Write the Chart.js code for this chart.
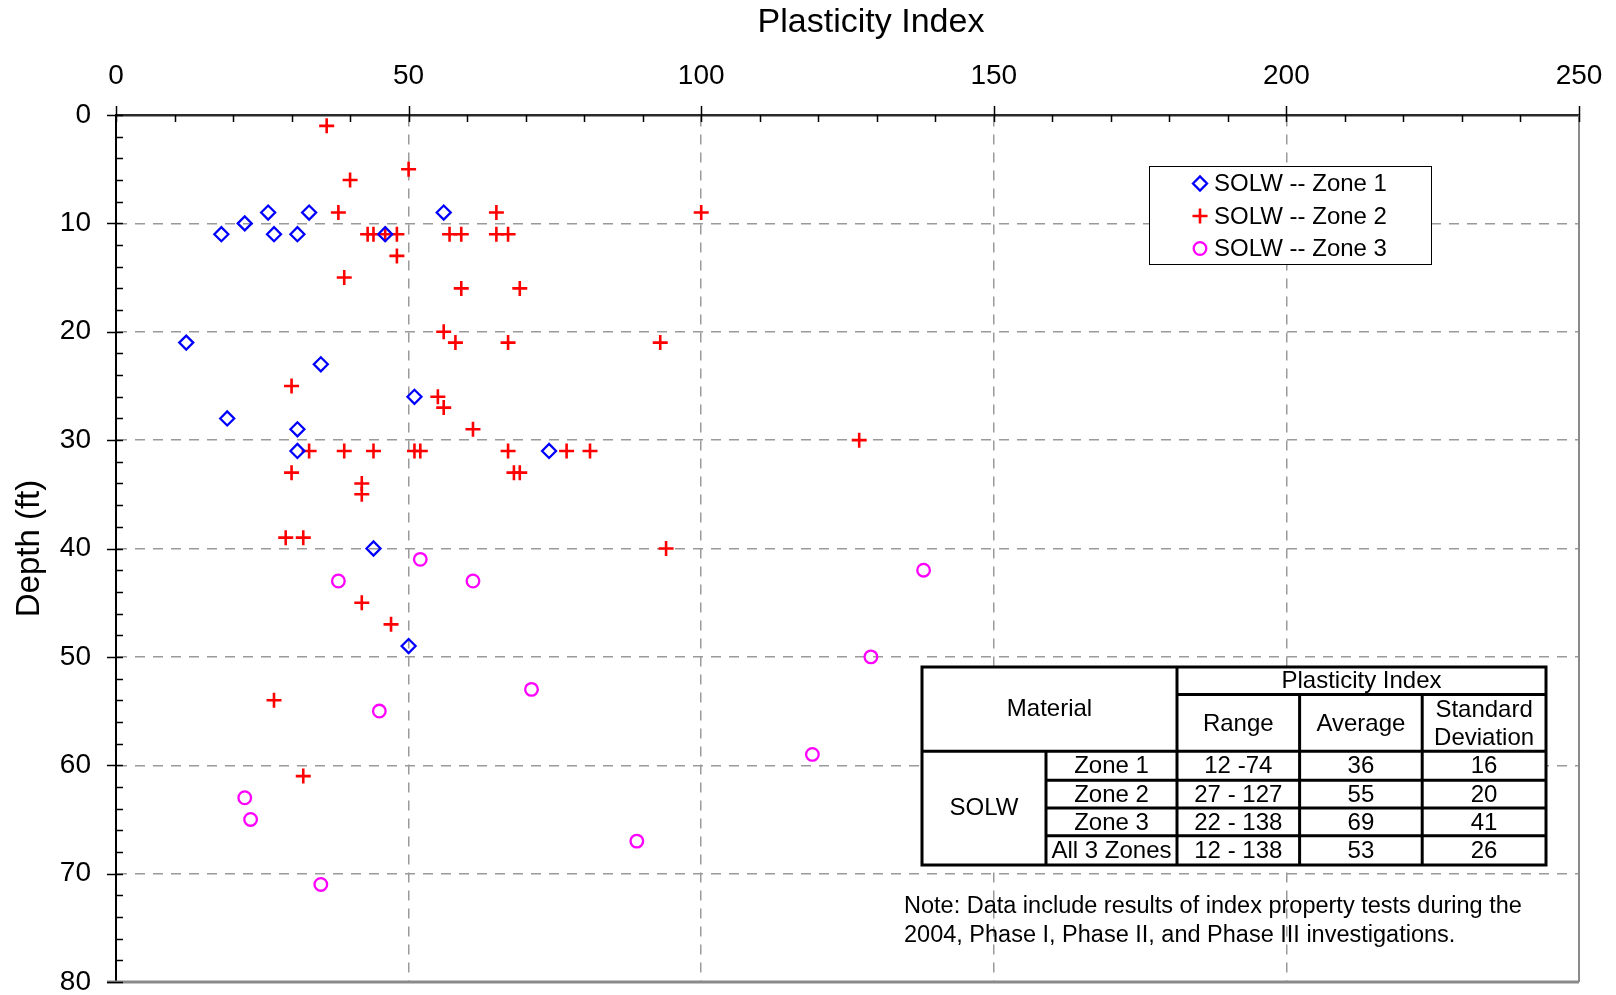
<!DOCTYPE html>
<html>
<head>
<meta charset="utf-8">
<title>Plasticity Index - SOLW</title>
<script src="https://cdn.jsdelivr.net/npm/chart.js@4.4.0/dist/chart.umd.min.js"></script>
<style>
  html, body { margin: 0; padding: 0; background: #fff; }
  #contenedor { width: 1616px; height: 995px; }
</style>
</head>
<body>
<div id="contenedor"><canvas id="grafica" width="1616" height="995"></canvas></div>
<script>
// Zona 1 (rombos azules)
var zona1PI   = [26, 33, 56, 22, 18, 27, 31, 46, 12, 35, 51, 19, 31, 31, 74, 44, 50];
var zona1Prof = [9, 9, 9, 10, 11, 11, 11, 11, 21, 23, 26, 28, 29, 31, 31, 40, 49];

// Zona 2 (cruces rojas)
var zona2PI   = [36, 50, 40, 38, 65, 100, 43, 44, 46, 48, 57, 59, 65, 67, 48, 39, 59, 69, 56, 58, 67, 93,
                 30, 55, 56, 61, 127, 33, 39, 44, 51, 52, 67, 77, 81, 30, 68, 69, 42, 42, 29, 32, 94, 42, 47, 27, 32];
var zona2Prof = [1, 5, 6, 9, 9, 9, 11, 11, 11, 11, 11, 11, 11, 11, 13, 15, 16, 16, 20, 21, 21, 21,
                 25, 26, 27, 29, 30, 31, 31, 31, 31, 31, 31, 31, 31, 33, 33, 33, 34, 35, 39, 39, 40, 45, 47, 54, 61];

// Zona 3 (circulos magenta)
var zona3PI   = [52, 138, 38, 61, 129, 71, 45, 119, 22, 23, 89, 35];
var zona3Prof = [41, 42, 43, 43, 50, 53, 55, 59, 63, 65, 67, 71];

// etiquetas de los ejes
var etiquetasX = [0, 50, 100, 150, 200, 250];
var etiquetasY = [0, 10, 20, 30, 40, 50, 60, 70, 80];

// tabla resumen
var tablaZonas    = ['Zone 1', 'Zone 2', 'Zone 3', 'All 3 Zones'];
var tablaRango    = ['12 -74', '27 - 127', '22 - 138', '12 - 138'];
var tablaPromedio = ['36', '55', '69', '53'];
var tablaDesv     = ['16', '20', '41', '26'];

var nota = ['Note: Data include results of index property tests during the',
            '2004, Phase I, Phase II, and Phase III investigations.'];

var fuente = "'Liberation Sans', Arial, Helvetica, sans-serif";

function puntos(xs, ys) {
    return xs.map(function(v, i) { return { x: v, y: ys[i] }; });
}

// titulo superior, marcas de los ejes, marco, leyenda y tabla
var extras = {
    id: 'extras',
    afterDraw: function(chart) {
        var ctx = chart.ctx;
        var area = chart.chartArea;
        var ex = chart.scales.x;
        var ey = chart.scales.y;
        var v, p;

        ctx.save();

        // titulo del eje x (en el original esta corrido a la derecha)
        ctx.fillStyle = '#000';
        ctx.font = '34px ' + fuente;
        ctx.textAlign = 'center';
        ctx.textBaseline = 'middle';
        ctx.fillText('Plasticity Index', 871, 23);

        // marco derecho e inferior
        ctx.strokeStyle = '#8a8a8a';
        ctx.lineWidth = 2;
        ctx.beginPath();
        ctx.moveTo(area.right, area.top);
        ctx.lineTo(area.right, area.bottom);
        ctx.stroke();
        ctx.lineWidth = 3;
        ctx.beginPath();
        ctx.moveTo(area.left - 9, area.bottom);
        ctx.lineTo(area.right, area.bottom);
        ctx.stroke();

        // ticks del eje x
        ctx.strokeStyle = '#000';
        ctx.lineWidth = 1.5;
        for (v = 0; v <= 250; v += 10) {
            p = Math.round(ex.getPixelForValue(v)) + 0.5;
            ctx.beginPath();
            if (etiquetasX.indexOf(v) >= 0) {
                ctx.moveTo(p, area.top - 9);
            } else {
                ctx.moveTo(p, area.top);
            }
            ctx.lineTo(p, area.top + 7);
            ctx.stroke();
        }
        // ticks del eje y
        for (v = 0; v <= 80; v += 2) {
            p = Math.round(ey.getPixelForValue(v)) + 0.5;
            ctx.beginPath();
            if (etiquetasY.indexOf(v) >= 0) {
                ctx.moveTo(area.left - 9, p);
            } else {
                ctx.moveTo(area.left, p);
            }
            ctx.lineTo(area.left + 7, p);
            ctx.stroke();
        }

        // leyenda
        ctx.fillStyle = '#fff';
        ctx.fillRect(1149, 166, 282, 98);
        ctx.strokeStyle = '#000';
        ctx.lineWidth = 1;
        ctx.strokeRect(1149.5, 166.5, 282, 98);
        var filas = [183.5, 216, 248.5];
        chart.data.datasets.forEach(function(ds, i) {
            ctx.save();
            ctx.strokeStyle = ds.borderColor;
            ctx.fillStyle = 'rgba(0,0,0,0)';
            ctx.lineWidth = ds.borderWidth;
            Chart.helpers.drawPoint(ctx, {
                pointStyle: ds.pointStyle,
                radius: ds.pointRadius,
                borderWidth: ds.borderWidth,
                rotation: 0
            }, 1200, filas[i]);
            ctx.restore();
            ctx.fillStyle = '#000';
            ctx.font = '24px ' + fuente;
            ctx.textAlign = 'left';
            ctx.textBaseline = 'middle';
            ctx.fillText(ds.label, 1214, filas[i] + 1);
        });

        // tabla
        var L = 922, R = 1546, T = 667, B = 865;
        var c1 = 1046, c2 = 1177, c3 = 1299.6, c4 = 1422.2;
        var r1 = 694.6, r2 = 751.3, r3 = 780.2, r4 = 808, r5 = 835.8;
        ctx.fillStyle = '#fff';
        ctx.fillRect(L, T, R - L, B - T);
        ctx.strokeStyle = '#000';
        ctx.lineWidth = 3;
        function linea(x1, y1, x2, y2) {
            ctx.beginPath();
            ctx.moveTo(x1, y1);
            ctx.lineTo(x2, y2);
            ctx.stroke();
        }
        ctx.strokeRect(L, T, R - L, B - T);
        linea(c2, r1, R, r1);
        linea(L, r2, R, r2);
        linea(c1, r3, R, r3);
        linea(c1, r4, R, r4);
        linea(c1, r5, R, r5);
        linea(c1, r2, c1, B);
        linea(c2, T, c2, B);
        linea(c3, r1, c3, B);
        linea(c4, r1, c4, B);

        ctx.fillStyle = '#000';
        ctx.font = '24px ' + fuente;
        ctx.textAlign = 'center';
        ctx.textBaseline = 'middle';
        ctx.fillText('Plasticity Index', (c2 + R) / 2, (T + r1) / 2 + 1);
        ctx.fillText('Material', (L + c2) / 2, 709);
        ctx.fillText('Range', (c2 + c3) / 2, 724);
        ctx.fillText('Average', (c3 + c4) / 2, 724);
        ctx.fillText('Standard', (c4 + R) / 2, 710);
        ctx.fillText('Deviation', (c4 + R) / 2, 738);
        ctx.fillText('SOLW', (L + c1) / 2, 808);
        var centros = [(r2 + r3) / 2, (r3 + r4) / 2, (r4 + r5) / 2, (r5 + B) / 2];
        for (var i = 0; i < tablaZonas.length; i++) {
            var cy = centros[i] + 1;
            ctx.fillText(tablaZonas[i], (c1 + c2) / 2, cy);
            ctx.fillText(tablaRango[i], (c2 + c3) / 2, cy);
            ctx.fillText(tablaPromedio[i], (c3 + c4) / 2, cy);
            ctx.fillText(tablaDesv[i], (c4 + R) / 2, cy);
        }

        // nota
        ctx.textAlign = 'left';
        ctx.font = '23.5px ' + fuente;
        ctx.fillText(nota[0], 904, 907);
        ctx.fillText(nota[1], 904, 936);

        ctx.restore();
    }
};

Chart.defaults.font.family = fuente;
Chart.defaults.color = '#000';

var ctx = document.getElementById('grafica').getContext('2d');
var grafica = new Chart(ctx, {
    type: 'scatter',
    data: {
        datasets: [
            {
                label: 'SOLW -- Zone 1',
                data: puntos(zona1PI, zona1Prof),
                pointStyle: 'rectRot',
                pointRadius: 7,
                borderWidth: 2.3,
                borderColor: '#0000ff',
                backgroundColor: 'rgba(0,0,0,0)'
            },
            {
                label: 'SOLW -- Zone 2',
                data: puntos(zona2PI, zona2Prof),
                pointStyle: 'cross',
                pointRadius: 7.5,
                borderWidth: 2.6,
                borderColor: '#ff0000',
                backgroundColor: 'rgba(0,0,0,0)'
            },
            {
                label: 'SOLW -- Zone 3',
                data: puntos(zona3PI, zona3Prof),
                pointStyle: 'circle',
                pointRadius: 6.3,
                borderWidth: 2.3,
                borderColor: '#ff00ff',
                backgroundColor: 'rgba(0,0,0,0)'
            }
        ]
    },
    options: {
        responsive: false,
        animation: false,
        devicePixelRatio: 1,
        events: [],
        layout: { padding: { left: 0, top: 0, right: 37, bottom: 13 } },
        plugins: {
            legend: { display: false },
            tooltip: { enabled: false }
        },
        scales: {
            x: {
                type: 'linear',
                position: 'top',
                min: 0,
                max: 250,
                afterFit: function(s) { s.height = 115; s.paddingLeft = 0; s.paddingRight = 0; },
                ticks: {
                    stepSize: 10,
                    autoSkip: false,
                    maxRotation: 0,
                    padding: 22,
                    color: '#000',
                    font: { size: 28 },
                    callback: function(v) { return etiquetasX.indexOf(v) >= 0 ? String(v) : ''; }
                },
                grid: {
                    drawTicks: false,
                    lineWidth: 1.5,
                    color: function(c) {
                        var v = c.tick ? c.tick.value : -1;
                        return (etiquetasX.indexOf(v) > 0 && v < 250) ? '#9a9a9a' : 'rgba(0,0,0,0)';
                    }
                },
                border: { display: true, color: '#2a2a2a', width: 2.5, dash: [10, 8] },
                title: { display: false }
            },
            y: {
                type: 'linear',
                position: 'left',
                reverse: true,
                min: 0,
                max: 80,
                afterFit: function(s) { s.width = 116; s.paddingTop = 0; s.paddingBottom = 0; },
                ticks: {
                    stepSize: 2,
                    autoSkip: false,
                    padding: 25,
                    color: '#000',
                    font: { size: 28 },
                    callback: function(v) { return etiquetasY.indexOf(v) >= 0 ? String(v) : ''; }
                },
                grid: {
                    drawTicks: false,
                    lineWidth: 1.5,
                    color: function(c) {
                        var v = c.tick ? c.tick.value : -1;
                        return (etiquetasY.indexOf(v) > 0 && v < 80) ? '#9a9a9a' : 'rgba(0,0,0,0)';
                    }
                },
                border: { display: true, color: '#000', width: 2, dash: [10, 8] },
                title: {
                    display: true,
                    text: 'Depth (ft)',
                    color: '#000',
                    font: { size: 33 },
                    padding: { top: 10, bottom: 0 }
                }
            }
        }
    },
    plugins: [extras]
});
</script>
</body>
</html>
